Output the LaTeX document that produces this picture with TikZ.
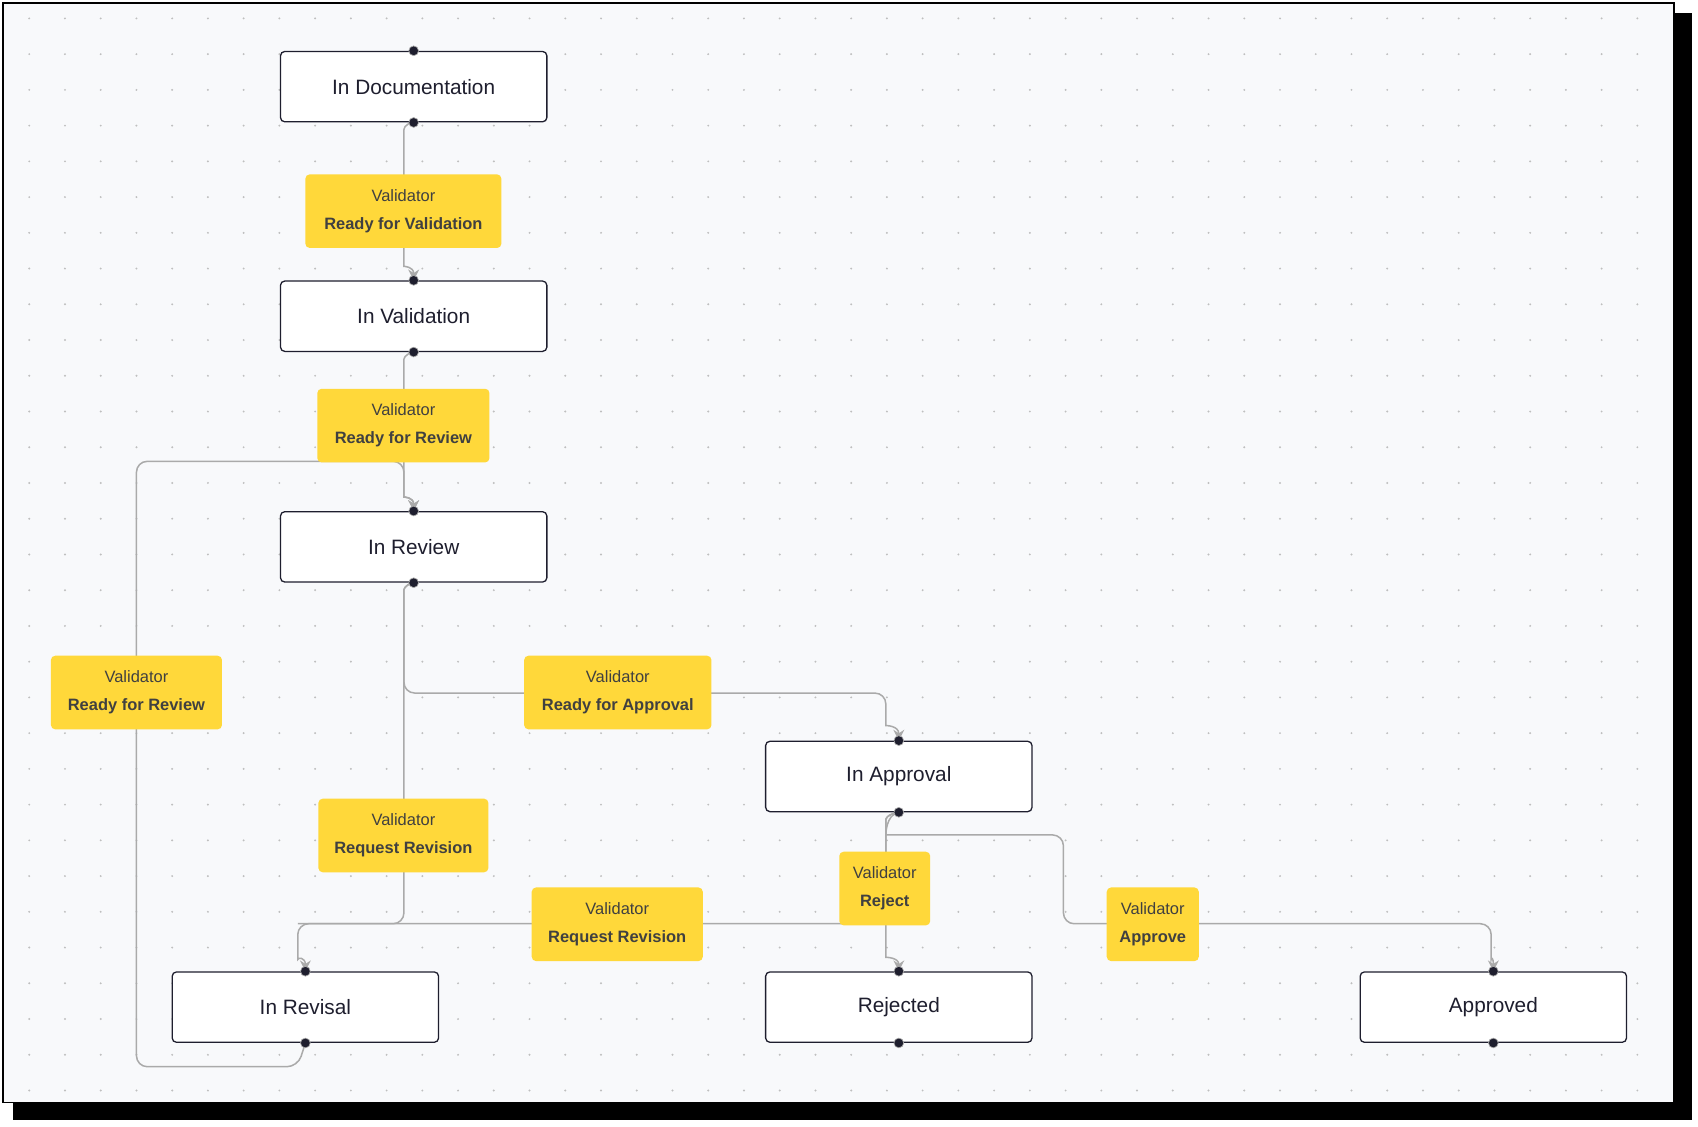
\documentclass[tikz,border=0pt]{standalone}
\usepackage{fontspec}
\setmainfont{Liberation Sans}
\usetikzlibrary{arrows.meta}
\definecolor{bg}{HTML}{F8F9FB}
\definecolor{lab}{HTML}{FFD83A}
\definecolor{edge}{HTML}{AAAAAA}
\definecolor{ink}{HTML}{1E1E2E}
\begin{document}
\begin{tikzpicture}[x=0.5pt,y=-0.5pt,
  state/.style={draw=ink,line width=0.6pt,fill=white,rounded corners=2pt,minimum width=123pt,minimum height=32.5pt,font=\fontsize{9.6}{11}\selectfont,text=ink,inner sep=0pt},
  lbl/.style={fill=lab,rounded corners=2pt,align=center,font=\fontsize{7.6}{13}\selectfont,text=black!75,inner sep=0pt},
  ed/.style={draw=edge,line width=0.7pt,rounded corners=5pt},
  ar/.style={ed,-{Stealth[length=5pt,width=5pt]}},
  port/.style={circle,fill=ink,draw=edge,line width=0.3pt,inner sep=0pt,minimum size=4.5pt}]
\useasboundingbox (0,0) rectangle (1568,1040);
\fill[black] (12,12) rectangle (1562,1034);
\fill[bg,draw=black,line width=0.8pt] (3,3) rectangle (1546,1018);
\foreach \x in {27,60,...,1540} \foreach \y in {17,50,...,1010} \fill[black!25] (\x,\y) circle (0.5pt);
% states
\node[state] (doc) at (382,80) {In Documentation};
\node[state] (val) at (382,292) {In Validation};
\node[state] (rev) at (382,505) {In Review};
\node[state] (app) at (830,717) {In Approval};
\node[state] (rvs) at (282,930) {In Revisal};
\node[state] (rej) at (830,930) {Rejected};
\node[state] (apd) at (1379,930) {Approved};
% edges
\draw[ar] (doc.south) .. controls (373,114) and (373,120) .. (373,130) -- (373,236) .. controls (373,246) and (382,246) .. (val.north);
\draw[ar] (val.south) .. controls (373,327) and (373,332) .. (373,342) -- (373,449) .. controls (373,459) and (382,459) .. (rev.north);
\draw[ar] (rev.south) .. controls (373,540) and (373,545) .. (373,555) -- (373,640) -- (818,640) -- (818,660) .. controls (818,670) and (830,670) .. (app.north);
\draw[ar] (rev.south) .. controls (373,540) and (373,545) .. (373,555) -- (373,853) -- (275,853) -- (275,876) .. controls (275,884) and (282,884) .. (rvs.north);
\draw[ar] (app.south) .. controls (818,752) and (818,757) .. (818,767) -- (818,874) .. controls (818,884) and (830,884) .. (rej.north);
\draw[ed] (app.south) .. controls (818,752) and (818,757) .. (818,767) -- (818,853) -- (275,853);
\draw[ar] (app.south) .. controls (818,752) and (818,771) .. (828,771) -- (982,771) -- (982,853) -- (1377,853) -- (1377,876) .. controls (1377,884) and (1379,884) .. (apd.north);
\draw[ar] (rvs.south) -- (275,985) -- (126,985) -- (126,426) -- (373,426) -- (373,449) .. controls (373,459) and (382,459) .. (rev.north);
% ports
\foreach \n in {doc,val,rev,app,rvs,rej,apd} {\node[port] at (\n.north) {}; \node[port] at (\n.south) {};}
% labels
\node[lbl,minimum width=90.5pt,minimum height=34pt] (l1) at (372.5,195) {Validator\\\textbf{Ready for Validation}};
\node[lbl,minimum width=79.5pt,minimum height=34pt] (l2) at (372.5,393) {Validator\\\textbf{Ready for Review}};
\node[lbl,minimum width=79pt,minimum height=34pt] (l3) at (126,639.5) {Validator\\\textbf{Ready for Review}};
\node[lbl,minimum width=86.5pt,minimum height=34pt] (l4) at (570.5,639.5) {Validator\\\textbf{Ready for Approval}};
\node[lbl,minimum width=78.5pt,minimum height=34pt] (l5) at (372.5,771.5) {Validator\\\textbf{Request Revision}};
\node[lbl,minimum width=79pt,minimum height=34pt] (l6) at (570,853.5) {Validator\\\textbf{Request Revision}};
\node[lbl,minimum width=42pt,minimum height=34pt] (l7) at (817,820.5) {Validator\\\textbf{Reject}};
\node[lbl,minimum width=42.5pt,minimum height=34pt] (l8) at (1064.5,853.5) {Validator\\\textbf{Approve}};
\end{tikzpicture}
\end{document}
